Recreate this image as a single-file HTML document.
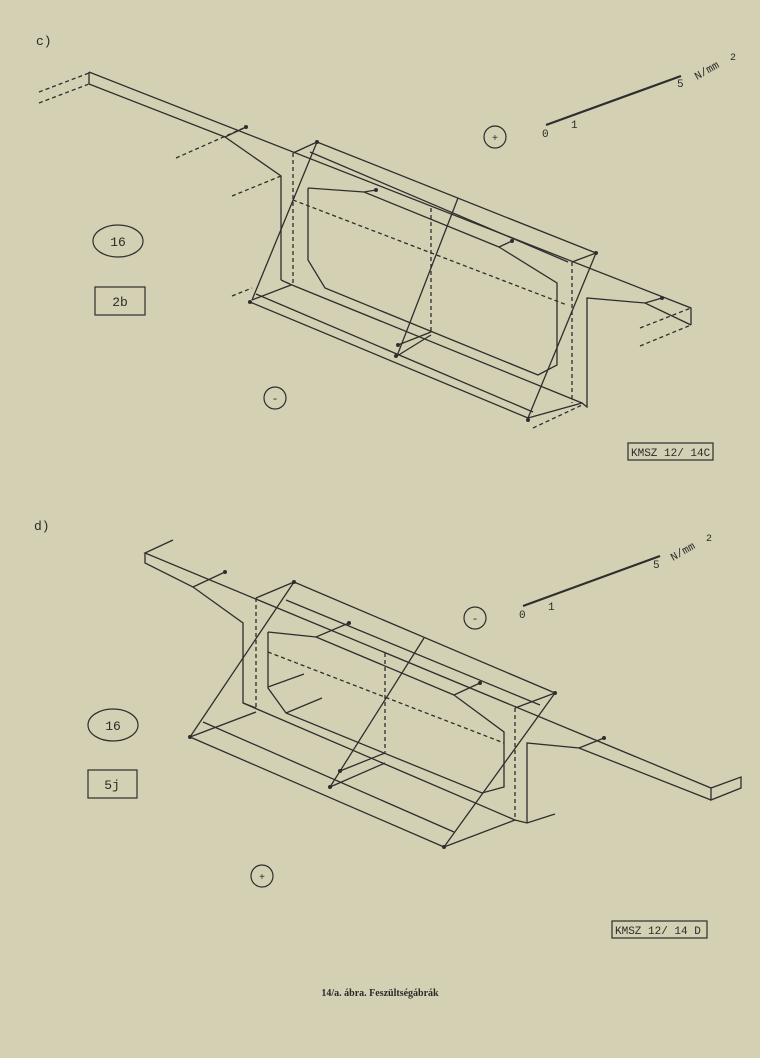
<!DOCTYPE html>
<html><head><meta charset="utf-8"><style>
html,body{margin:0;padding:0;background:#d4d0b3;}
svg{display:block}
text{font-family:"Liberation Mono",monospace;fill:#2a2a2a}
</style></head><body>
<svg width="760" height="1058" viewBox="0 0 760 1058" xmlns="http://www.w3.org/2000/svg">
<rect width="760" height="1058" fill="#d4d0b3"/>
<g stroke="#2e2e2e" stroke-width="1.3" fill="none">
<!-- TOP DIAGRAM c) -->
<polyline points="89,72 691,308 691,325"/>
<line x1="89" y1="72" x2="89" y2="84"/>
<g stroke-dasharray="4,3">
<line x1="39" y1="92" x2="89" y2="73"/><line x1="39" y1="103" x2="89" y2="84"/>
<line x1="640" y1="328" x2="691" y2="308"/><line x1="640" y1="346" x2="691" y2="325"/>
<line x1="176" y1="158" x2="246" y2="127"/><line x1="232" y1="196" x2="281" y2="176"/>
<line x1="232" y1="296" x2="252" y2="288"/><line x1="533" y1="428" x2="582" y2="405"/>
<line x1="293" y1="153" x2="293" y2="285"/><line x1="431" y1="208" x2="431" y2="332"/>
<line x1="572" y1="262" x2="572" y2="403"/><line x1="293" y1="200" x2="567" y2="305"/>
</g>
<polyline points="89,84 225,137 281,176 281,280"/>
<polyline points="281,280 292,285 582,403 587,407 587,298 645,303 691,325"/>
<line x1="291" y1="285" x2="252" y2="300"/>
<line x1="250" y1="302" x2="528" y2="418"/>
<line x1="256" y1="294" x2="533" y2="412"/>
<line x1="528" y1="418" x2="582" y2="403"/>
<line x1="317" y1="142" x2="596" y2="253"/>
<line x1="317" y1="142" x2="293" y2="153"/>
<line x1="596" y1="253" x2="572" y2="262"/>
<line x1="310" y1="152" x2="568" y2="262"/>
<polyline points="308,188 364,192 376,190"/>
<polyline points="364,192 499,247 512,241"/>
<polyline points="308,188 308,260 325,288 538,375 557,365 557,283 499,247"/>
<polyline points="225,137 246,127"/>
<polyline points="645,303 662,298"/>
<line x1="317" y1="142" x2="252" y2="300"/>
<line x1="458" y1="198" x2="397" y2="356"/>
<line x1="596" y1="253" x2="528" y2="418"/>
<line x1="397" y1="356" x2="431" y2="335"/>
<line x1="398" y1="345" x2="431" y2="332"/>
<!-- BOTTOM DIAGRAM d) -->
<polyline points="173,540 145,553 711,788 741,777 741,788 711,800 711,788"/>
<polyline points="145,553 145,563 193,587 243,623 243,703 515,820 527,823 555,814"/>
<polyline points="527,823 527,743 579,748 711,800"/>
<line x1="193" y1="587" x2="225" y2="572"/>
<line x1="256" y1="598" x2="294" y2="582"/>
<line x1="294" y1="582" x2="555" y2="693"/>
<line x1="555" y1="693" x2="515" y2="708"/>
<line x1="286" y1="600" x2="540" y2="705"/>
<polyline points="268,632 316,637 349,623"/>
<polyline points="316,637 454,695 480,683"/>
<polyline points="268,632 268,688 286,713 482,793 504,787 504,732 454,695"/>
<line x1="268" y1="687" x2="304" y2="674"/><line x1="286" y1="713" x2="322" y2="698"/>
<line x1="579" y1="748" x2="604" y2="738"/>
<g stroke-dasharray="4,3">
<line x1="256" y1="598" x2="256" y2="708"/><line x1="385" y1="653" x2="385" y2="753"/>
<line x1="515" y1="708" x2="515" y2="820"/><line x1="268" y1="652" x2="504" y2="743"/>
</g>
<line x1="294" y1="582" x2="190" y2="737"/>
<line x1="424" y1="638" x2="330" y2="787"/>
<line x1="555" y1="693" x2="444" y2="847"/>
<line x1="190" y1="737" x2="444" y2="847"/>
<line x1="190" y1="737" x2="256" y2="712"/>
<line x1="203" y1="722" x2="454" y2="832"/>
<line x1="444" y1="847" x2="515" y2="820"/>
<line x1="330" y1="787" x2="385" y2="763"/>
<line x1="340" y1="771" x2="385" y2="753"/>
<line x1="243" y1="703" x2="256" y2="708"/>
</g>
<g fill="#2e2e2e">
<circle cx="246" cy="127" r="2"/><circle cx="317" cy="142" r="2"/><circle cx="376" cy="190" r="2"/>
<circle cx="512" cy="241" r="2"/><circle cx="596" cy="253" r="2"/><circle cx="662" cy="298" r="2"/>
<circle cx="398" cy="345" r="2"/><circle cx="396" cy="356" r="2"/><circle cx="528" cy="420" r="2"/><circle cx="250" cy="302" r="2"/>
<circle cx="225" cy="572" r="2"/><circle cx="294" cy="582" r="2"/><circle cx="349" cy="623" r="2"/>
<circle cx="480" cy="683" r="2"/><circle cx="555" cy="693" r="2"/><circle cx="604" cy="738" r="2"/>
<circle cx="190" cy="737" r="2"/><circle cx="340" cy="771" r="2"/><circle cx="330" cy="787" r="2"/><circle cx="444" cy="847" r="2"/>
</g>
<g stroke="#2e2e2e" stroke-width="2.2"><line x1="546" y1="125" x2="681" y2="76"/><line x1="523" y1="606" x2="660" y2="556"/></g>
<g font-size="11">
<text x="542" y="137">0</text><text x="571" y="128">1</text><text x="677" y="87">5</text>
<text x="697" y="80" transform="rotate(-30 697 80)">N/mm</text><text x="730" y="60" font-size="10">2</text>
<text x="519" y="618">0</text><text x="548" y="610">1</text><text x="653" y="568">5</text>
<text x="673" y="561" transform="rotate(-30 673 561)">N/mm</text><text x="706" y="541" font-size="10">2</text>
</g>
<g font-size="13"><text x="36" y="45">c)</text><text x="34" y="530">d)</text></g>
<g stroke="#2e2e2e" stroke-width="1.2" fill="none">
<ellipse cx="118" cy="241" rx="25" ry="16"/><rect x="95" y="287" width="50" height="28"/>
<circle cx="495" cy="137" r="11"/><circle cx="275" cy="398" r="11"/>
<ellipse cx="113" cy="725" rx="25" ry="16"/><rect x="88" y="770" width="49" height="28"/>
<circle cx="475" cy="618" r="11"/><circle cx="262" cy="876" r="11"/>
<rect x="628" y="443" width="85" height="17"/><rect x="612" y="921" width="95" height="17"/>
</g>
<g font-size="13" text-anchor="middle">
<text x="118" y="246">16</text><text x="120" y="306">2b</text>
<text x="113" y="730">16</text><text x="112" y="789">5j</text>
<text x="495" y="141" font-size="10">+</text><text x="275" y="402" font-size="11">-</text>
<text x="475" y="622" font-size="11">-</text><text x="262" y="880" font-size="10">+</text>
</g>
<g font-size="11"><text x="631" y="456">KMSZ 12/ 14C</text><text x="615" y="934">KMSZ 12/ 14 D</text></g>
<text x="380" y="996" text-anchor="middle" font-weight="bold" font-size="10" style="font-family:'Liberation Serif',serif">14/a. ábra. Feszültségábrák</text>
</svg>
</body></html>
